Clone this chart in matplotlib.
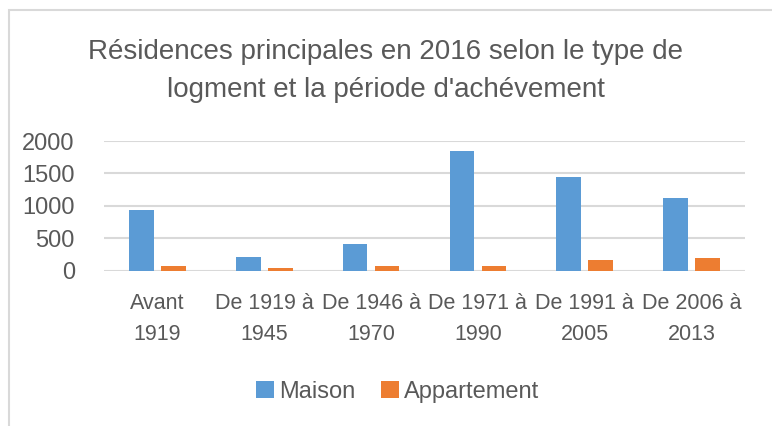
import matplotlib
matplotlib.use('Agg')
import matplotlib.pyplot as plt
import numpy as np
from matplotlib.patches import Rectangle

# données
periodes = ["Avant\n1919", "De 1919 à\n1945", "De 1946 à\n1970",
            "De 1971 à\n1990", "De 1991 à\n2005", "De 2006 à\n2013"]
maison = [930, 215, 415, 1845, 1450, 1115]
appartement = [70, 35, 65, 80, 165, 200]

titre = "Résidences principales en 2016 selon le type de\nlogment et la période d'achévement"

plt.rcParams['font.family'] = ['Liberation Sans', 'DejaVu Sans']
gris_texte = "#595959"
gris_grille = "#d9d9d9"

fig = plt.figure(figsize=(7.72, 4.26), dpi=100)
ax = fig.add_axes([104 / 772, 1 - 270.7 / 426, (745 - 104) / 772, (270.7 - 141) / 426])

x = np.arange(len(periodes))
largeur = 0.23
ax.bar(x - 0.15, maison, largeur, color="#5b9bd5", label="Maison", zorder=3)
ax.bar(x + 0.15, appartement, largeur, color="#ed7d31", label="Appartement", zorder=3)

ax.set_xlim(-0.5, len(periodes) - 0.5)
ax.set_ylim(0, 2000)
ax.set_yticks([0, 500, 1000, 1500, 2000])
ax.set_xticks(x)
ax.set_xticklabels(periodes, linespacing=1.6, fontsize=15.5)
ax.tick_params(axis="both", length=0, colors=gris_texte)
ax.tick_params(axis="y", labelsize=17, pad=21)
ax.tick_params(axis="x", pad=16)

ax.grid(axis="y", color=gris_grille, linewidth=1.5, zorder=0)
for s in ax.spines.values():
    s.set_visible(False)

fig.text(0.5, 1 - 71 / 426, titre, ha="center", va="center", fontsize=20,
         color=gris_texte, linespacing=1.6)

fig.legend(loc="center", bbox_to_anchor=(0.515, 1 - 392 / 426), ncol=2, frameon=False,
           fontsize=17, labelcolor=gris_texte, handlelength=0.75, handleheight=0.75,
           handletextpad=0.2, columnspacing=1.1)

# cadre du graphique (coupé à droite et en bas)
fig.patches.append(Rectangle((9 / 772, -0.1), 1.1, 1 - 10 / 426 + 0.1, transform=fig.transFigure,
                             fill=False, edgecolor="#d9d9d9", linewidth=1.5))

fig.savefig("out.png", dpi=100)
